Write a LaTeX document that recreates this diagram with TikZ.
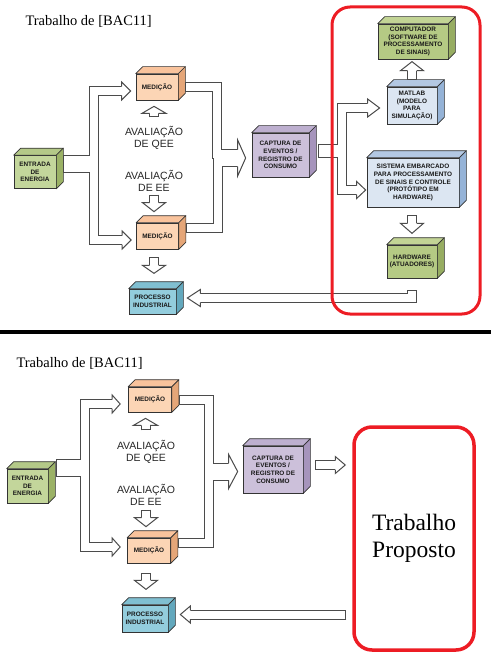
\documentclass[tikz,border=0pt]{standalone}
\usepackage{fontspec}
\setmainfont{Liberation Serif}
\setsansfont{Liberation Sans}
\usepackage{tikz}
\usetikzlibrary{calc}
\definecolor{pipeline}{RGB}{75,75,75}
\definecolor{framered}{RGB}{237,28,36}
\definecolor{peachF}{HTML}{FCD5B5}
\definecolor{peachT}{HTML}{F9C39C}
\definecolor{peachS}{HTML}{E5A678}
\definecolor{leafF}{HTML}{C3D69B}
\definecolor{leafT}{HTML}{B4C988}
\definecolor{leafS}{HTML}{9BB266}
\definecolor{oliveF}{HTML}{B5CA84}
\definecolor{oliveT}{HTML}{C2D495}
\definecolor{oliveS}{HTML}{97AD62}
\definecolor{aquaF}{HTML}{93CDDD}
\definecolor{aquaT}{HTML}{80BFD1}
\definecolor{aquaS}{HTML}{63A8BD}
\definecolor{lilacF}{HTML}{CCC0DA}
\definecolor{lilacT}{HTML}{BDAFCF}
\definecolor{lilacS}{HTML}{A694BC}
\definecolor{paleF}{HTML}{DCE6F2}
\definecolor{paleT}{HTML}{B3C8E3}
\definecolor{paleS}{HTML}{95B3D7}
\tikzset{
  cubebox/.style={draw=black!80, line width=0.7pt, inner sep=0pt, align=center,
    font=\fontsize{6.4}{7.8}\selectfont\sffamily\bfseries, text=black!90},
  cubeedge/.style={draw=black!80, line width=0.7pt, line join=round},
  pipe/.style={draw=pipeline, line width=10pt, line join=miter},
  pipein/.style={draw=white, line width=8pt, line join=miter, shorten <=1pt},
  evaltext/.style={font=\fontsize{10.5}{12.2}\selectfont\sffamily, align=center, text=black!85},
  titletext/.style={font=\fontsize{14.5}{17}\selectfont, anchor=base west},
  redframe/.style={draw=framered, line width=3pt, rounded corners=18pt},
  pics/head/.style n args={3}{code={
    \filldraw[fill=white, draw=pipeline, line width=1pt, line join=miter]
      (0,#1) -- (0,#2) -- (#3,0) -- (0,-#2) -- (0,-#1);}}
}
\newcommand{\cubefaces}[3]{%
  \filldraw[cubeedge, fill=#2] (#1.north west) -- ++(7,-7) -- ($(#1.north east)+(7,-7)$) -- (#1.north east) -- cycle;
  \filldraw[cubeedge, fill=#3] (#1.north east) -- ++(7,-7) -- ($(#1.south east)+(7,-7)$) -- (#1.south east) -- cycle;}

\begin{document}
\begin{tikzpicture}[x=1pt,y=-1pt]
\useasboundingbox (0,0) rectangle (491,658);

\node[titletext] (titA) at (22,25.5) {Trabalho de [BAC11]};
\node[cubebox, fill=leafF, minimum width=42, minimum height=33] (entA) at (35,172) {ENTRADA\\DE\\ENERGIA};
\node[cubebox, fill=peachF, minimum width=42, minimum height=26] (medA) at (157,87) {MEDIÇÃO};
\node[cubebox, fill=peachF, minimum width=42, minimum height=26] (medB) at (157.5,236) {MEDIÇÃO};
\node[cubebox, fill=aquaF, minimum width=47, minimum height=25] (procA) at (152.5,301.5) {PROCESSO\\INDUSTRIAL};
\node[cubebox, fill=lilacF, minimum width=57, minimum height=44] (capA) at (280.5,155) {CAPTURA DE\\EVENTOS /\\REGISTRO DE\\CONSUMO};
\node[cubebox, fill=oliveF, minimum width=70, minimum height=35] (compA) at (413,41.5) {COMPUTADOR\\(SOFTWARE DE\\PROCESSAMENTO\\DE SINAIS)};
\node[cubebox, fill=paleF, minimum width=50, minimum height=37] (matA) at (412,105.5) {MATLAB\\(MODELO\\PARA\\SIMULAÇÃO)};
\node[cubebox, fill=paleF, minimum width=92, minimum height=49] (sisA) at (413,182.5) {SISTEMA EMBARCADO\\PARA PROCESSAMENTO\\DE SINAIS E CONTROLE\\(PROTÓTIPO EM\\HARDWARE)};
\node[cubebox, fill=oliveF, minimum width=50, minimum height=33] (hwA) at (412,261.5) {HARDWARE\\(ATUADORES)};
\node[evaltext] (qeeA) at (154,138) {AVALIAÇÃO\\DE QEE};
\node[evaltext] (eeA) at (154,180.5) {AVALIAÇÃO\\DE EE};
\cubefaces{entA}{leafT}{leafS}
\cubefaces{medA}{peachT}{peachS}
\cubefaces{medB}{peachT}{peachS}
\cubefaces{procA}{aquaT}{aquaS}
\cubefaces{capA}{lilacT}{lilacS}
\cubefaces{compA}{oliveT}{oliveS}
\cubefaces{matA}{paleT}{paleS}
\cubefaces{sisA}{paleT}{paleS}
\cubefaces{hwA}{oliveT}{oliveS}

\node[titletext] (titB) at (13,367) {Trabalho de [BAC11]};
\node[cubebox, fill=leafF, minimum width=41, minimum height=34] (entB) at (27.5,486) {ENTRADA\\DE\\ENERGIA};
\node[cubebox, fill=peachF, minimum width=43, minimum height=25] (medC) at (150,399.5) {MEDIÇÃO};
\node[cubebox, fill=peachF, minimum width=43, minimum height=25] (medD) at (149,550.5) {MEDIÇÃO};
\node[cubebox, fill=aquaF, minimum width=46, minimum height=27] (procB) at (145,618.5) {PROCESSO\\INDUSTRIAL};
\node[cubebox, fill=lilacF, minimum width=60, minimum height=47] (capB) at (273,469.5) {CAPTURA DE\\EVENTOS /\\REGISTRO DE\\CONSUMO};
\node[evaltext] (qeeB) at (146,452) {AVALIAÇÃO\\DE QEE};
\node[evaltext] (eeB) at (146,495) {AVALIAÇÃO\\DE EE};
\node[redframe, line width=3.5pt, minimum width=120, minimum height=223, align=center,
  font=\fontsize{23.5}{27}\selectfont] (prop) at (414,538.5) {Trabalho\\Proposto};
\cubefaces{entB}{leafT}{leafS}
\cubefaces{medC}{peachT}{peachS}
\cubefaces{medD}{peachT}{peachS}
\cubefaces{procB}{aquaT}{aquaS}
\cubefaces{capB}{lilacT}{lilacS}

\foreach \lay in {pipe,pipein}{
  \draw[\lay] ($(entA.east)+(7,-12)$) -- ++(31,0) |- ($(medA.west)+(-14,4)$);
  \draw[\lay] ($(entA.east)+(7,-4)$) -- ++(31,0) |- ($(medB.west)+(-14,4)$);
  \draw[\lay] ($(medA.east)+(7,0)$) -- ++(32,0) |- ($(capA.west)+(-14,-1)$);
  \draw[\lay] ($(medB.east)+(7,-8)$) -- ++(32,0) |- ($(capA.west)+(-14,7)$);
  \draw[\lay] ($(capA.east)+(9,-6)$) -- ++(24,0) |- ($(matA.west)+(-19,2.5)$);
  \draw[\lay] ($(capA.east)+(9,-2)$) -- ++(24,0) |- ($(sisA.west)+(-10,7.5)$);
  \draw[\lay] ($(hwA.south)+(0,12)$) |- ($(procA.east)+(24,-3.5)$);
  \draw[\lay] ($(medA.south)+(-3,17)$) -- ($(medA.south)+(-3,13)$);
  \draw[\lay] ($(medB.north)+(-3.5,-28)$) -- ($(medB.north)+(-3.5,-20)$);
  \draw[\lay] ($(medB.south)+(-3.5,8)$) -- ($(medB.south)+(-3.5,16)$);
  \draw[\lay] ($(matA.north)+(0,-7)$) -- ($(matA.north)+(0,-16)$);
  \draw[\lay] ($(sisA.south)+(-1,8)$) -- ($(sisA.south)+(-1,16)$);
  \draw[\lay] ($(entB.east)+(8,-22)$) -- ++(29,0) |- ($(medC.west)+(-16,4.5)$);
  \draw[\lay] ($(entB.east)+(8,-14)$) -- ++(29,0) |- ($(medD.west)+(-15,-3.5)$);
  \draw[\lay] ($(medC.east)+(7,0)$) -- ++(30.5,0) |- ($(capB.west)+(-14,-2)$);
  \draw[\lay] ($(medD.east)+(7,-7.5)$) -- ++(31.5,0) |- ($(capB.west)+(-14,6)$);
  \draw[\lay] ($(capB.east)+(12,-4.5)$) -- ($(capB.east -| prop.west)+(-17,-4.5)$);
  \draw[\lay] ($(procB.east -| prop.west)+(-6,-4)$) -- ($(procB.east)+(22,-4)$);
  \draw[\lay] ($(medC.south)+(-4.5,18)$) -- ($(medC.south)+(-4.5,13)$);
  \draw[\lay] ($(medD.north)+(-3,-28)$) -- ($(medD.north)+(-3,-20)$);
  \draw[\lay] ($(medD.south)+(-3,10)$) -- ($(medD.south)+(-3,17)$);
}
\path ($(medA.west)+(-14,4)$) pic {head={4.5}{9}{9}};
\path ($(medB.west)+(-14,4)$) pic {head={4.5}{9}{9}};
\path ($(capA.west)+(-14,3)$) pic {head={8.5}{18}{8}};
\path ($(matA.west)+(-19,2.5)$) pic {head={4.5}{9}{12}};
\path ($(sisA.west)+(-10,7.5)$) pic {head={4.5}{8.5}{9}};
\path ($(procA.east)+(24,-3.5)$) pic[rotate=180] {head={4.5}{8.5}{13}};
\path ($(medA.south)+(-3,13)$) pic[rotate=90] {head={4.5}{12}{7}};
\path ($(medB.north)+(-3.5,-20)$) pic[rotate=-90] {head={4.5}{11.5}{9}};
\path ($(medB.south)+(-3.5,16)$) pic[rotate=-90] {head={4.5}{11.5}{8}};
\path ($(matA.north)+(0,-16)$) pic[rotate=90] {head={4.5}{11.5}{9}};
\path ($(sisA.south)+(-1,16)$) pic[rotate=-90] {head={4.5}{11.5}{10}};
\path ($(medC.west)+(-16,4.5)$) pic {head={4.5}{9}{8}};
\path ($(medD.west)+(-15,-3.5)$) pic {head={4.5}{9}{8}};
\path ($(capB.west)+(-14,2)$) pic {head={8.5}{17}{9}};
\path ($(capB.east -| prop.west)+(-17,-4.5)$) pic {head={4.5}{8.5}{10}};
\path ($(procB.east)+(22,-4)$) pic[rotate=180] {head={4.5}{8.5}{10}};
\path ($(medC.south)+(-4.5,13)$) pic[rotate=90] {head={4.5}{12}{7}};
\path ($(medD.north)+(-3,-20)$) pic[rotate=-90] {head={4.5}{11.5}{9}};
\path ($(medD.south)+(-3,17)$) pic[rotate=-90] {head={4.5}{11.5}{9}};

\draw[redframe] (332,7) rectangle (480,314);
\draw[line width=4pt] (0,332) -- (491,332);
\end{tikzpicture}
\end{document}
